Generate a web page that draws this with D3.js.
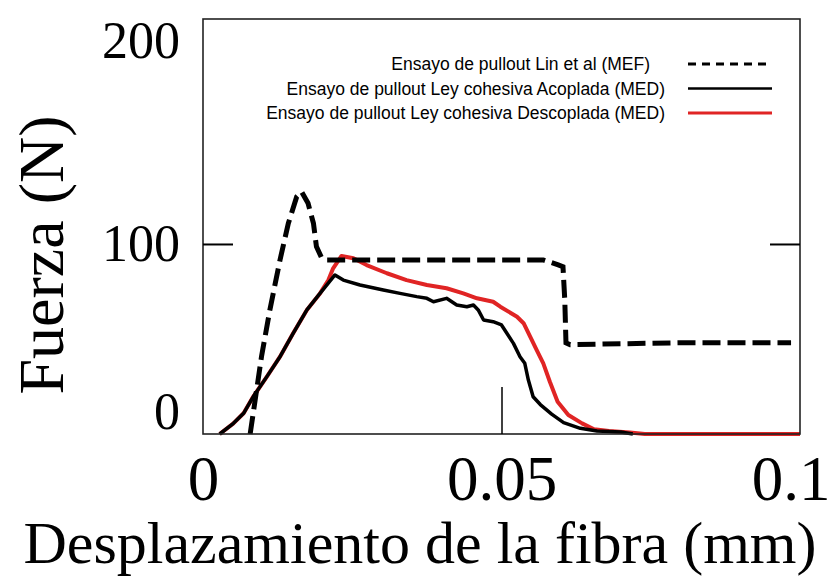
<!DOCTYPE html>
<html>
<head>
<meta charset="utf-8">
<script src="https://cdn.jsdelivr.net/npm/d3@7"></script>
<style>
  html, body { margin: 0; padding: 0; background: #fff; }
  svg { display: block; }
</style>
</head>
<body>
<svg id="chart" width="832" height="579"></svg>
<script>
// ---- Data ----
const xTicks = [0, 0.05, 0.1];
const yTicks = [0, 100, 200];
const xTickLabels = ["0", "0.05", "0.1"];
const yTickLabels = ["0", "100", "200"];

const seriesNames = [
  "Ensayo de pullout Lin et al (MEF)",
  "Ensayo de pullout Ley cohesiva Acoplada (MED)",
  "Ensayo de pullout Ley cohesiva Descoplada (MED)"
];

// Lin et al (MEF) : [desplazamiento (mm), fuerza (N)]
const linMEF = [
  [0.0079, 0], [0.0098, 40.7], [0.0112, 65.3], [0.0129, 91.6], [0.0143, 110.9],
  [0.0157, 124.9], [0.0165, 127.5], [0.0176, 121.4], [0.0185, 110.9], [0.0190, 98.6],
  [0.0199, 92.5], [0.0207, 91.6], [0.0300, 91.6], [0.0400, 91.6], [0.0500, 91.6],
  [0.0570, 91.6], [0.0595, 89.0], [0.0603, 88.0], [0.0606, 70.5], [0.0608, 48.0],
  [0.0615, 47.0], [0.0700, 47.5], [0.0800, 48.0], [0.0900, 48.0], [0.0985, 48.0]
];

// Ley cohesiva Acoplada (MED)
const acoplada = [
  [0.0028, 0], [0.0051, 5.6], [0.0068, 10.9], [0.0084, 19.6], [0.0107, 30.2],
  [0.0129, 40.7], [0.0151, 53.0], [0.0174, 65.3], [0.0196, 74.0], [0.0221, 83.7],
  [0.0235, 81.0], [0.0263, 78.4], [0.0302, 75.8], [0.0330, 74.0], [0.0358, 72.3],
  [0.0375, 71.4], [0.0386, 69.6], [0.0408, 71.4], [0.0425, 67.9], [0.0442, 67.0],
  [0.0453, 67.9], [0.0461, 65.3], [0.0470, 60.0], [0.0486, 59.1], [0.0500, 57.4],
  [0.0509, 53.0], [0.0520, 47.7], [0.0531, 40.7], [0.0539, 37.2], [0.0545, 28.4],
  [0.0553, 19.6], [0.0565, 15.5], [0.0584, 10.5], [0.0604, 6.0], [0.0632, 3.0],
  [0.0660, 1.6], [0.0700, 1.0], [0.0720, 0]
];

// Ley cohesiva Descoplada (MED)
const descoplada = [
  [0.0028, 0], [0.0051, 5.6], [0.0068, 10.9], [0.0084, 19.6], [0.0107, 30.2],
  [0.0129, 40.7], [0.0151, 53.0], [0.0174, 65.3], [0.0196, 74.0], [0.0210, 81.0],
  [0.0218, 87.2], [0.0232, 93.7], [0.0252, 92.5], [0.0274, 88.9], [0.0308, 84.6],
  [0.0341, 81.0], [0.0375, 78.4], [0.0408, 76.7], [0.0436, 74.0], [0.0459, 71.4],
  [0.0486, 69.6], [0.0498, 67.0], [0.0526, 61.7], [0.0537, 58.3], [0.0548, 51.2],
  [0.0559, 44.2], [0.0570, 37.2], [0.0581, 27.5], [0.0594, 17.0], [0.0612, 10.0],
  [0.0635, 5.6], [0.0655, 2.5], [0.0680, 1.6], [0.0715, 0.8], [0.0740, 0],
  [0.1000, 0]
];

// ---- Layout ----
const svg = d3.select("#chart");
const L = 203, R = 800, T = 19, B = 434;
const x = d3.scaleLinear().domain([0, 0.1]).range([L, R]);
const y = d3.scaleLinear().domain([0, 218.4]).range([B, T]);

const serif = "'Liberation Serif', 'Times New Roman', serif";
const sans = "'Liberation Sans', Arial, sans-serif";

const line = d3.line().x(d => x(d[0])).y(d => y(d[1]));

// Curves
svg.append("path").datum(descoplada)
  .attr("d", line).attr("fill", "none")
  .attr("stroke", "#e02424").attr("stroke-width", 4).attr("stroke-linejoin", "round");

svg.append("path").datum(acoplada)
  .attr("d", line).attr("fill", "none")
  .attr("stroke", "#000").attr("stroke-width", 3.5).attr("stroke-linejoin", "round");

svg.append("path").datum(linMEF)
  .attr("d", line).attr("fill", "none")
  .attr("stroke", "#000").attr("stroke-width", 5)
  .attr("stroke-dasharray", "18,7");

// Frame
svg.append("rect")
  .attr("x", L).attr("y", T).attr("width", R - L).attr("height", B - T)
  .attr("fill", "none").attr("stroke", "#222").attr("stroke-width", 1.6);

// Left axis
const gl = svg.append("g").attr("transform", `translate(${L},0)`)
  .call(d3.axisLeft(y).tickValues(yTicks)
    .tickFormat((d, i) => yTickLabels[i])
    .tickSizeInner(-30).tickSizeOuter(0).tickPadding(23));
gl.select(".domain").remove();
gl.selectAll(".tick line").attr("stroke", "#000").attr("stroke-width", 2)
  .attr("display", d => d === 100 ? null : "none");
gl.selectAll(".tick text")
  .attr("font-family", serif).attr("font-size", 52).attr("fill", "#000")
  .attr("transform", d => d === 200 ? "translate(0,-13)" : d === 0 ? "translate(0,-22)" : null);

// Right axis
const gr = svg.append("g").attr("transform", `translate(${R},0)`)
  .call(d3.axisRight(y).tickValues(yTicks).tickFormat("")
    .tickSizeInner(-30).tickSizeOuter(0));
gr.select(".domain").remove();
gr.selectAll(".tick line").attr("stroke", "#000").attr("stroke-width", 2)
  .attr("display", d => d === 100 ? null : "none");

// Bottom axis
const gb = svg.append("g").attr("transform", `translate(0,${B})`)
  .call(d3.axisBottom(x).tickValues(xTicks)
    .tickFormat((d, i) => xTickLabels[i])
    .tickSizeInner(-47).tickSizeOuter(0));
gb.select(".domain").remove();
gb.selectAll(".tick line").attr("stroke", "#000").attr("stroke-width", 1.5)
  .attr("display", d => d === 0.05 ? null : "none");
gb.selectAll(".tick text")
  .attr("font-family", serif).attr("font-size", 63).attr("fill", "#000")
  .attr("y", 66).attr("dy", 0)
  .attr("text-anchor", d => d === 0.1 ? "end" : "middle")
  .attr("x", d => d === 0.1 ? 830 - R : 0);

// Axis titles
svg.append("text")
  .attr("x", 420).attr("y", 563)
  .attr("text-anchor", "middle")
  .attr("font-family", serif).attr("font-size", 60).attr("fill", "#000")
  .text("Desplazamiento de la fibra (mm)");

svg.append("text")
  .attr("transform", "translate(63,255) rotate(-90)")
  .attr("text-anchor", "middle")
  .attr("font-family", serif).attr("font-size", 64).attr("fill", "#000")
  .text("Fuerza (N)");

// Legend
const legendStyles = [
  { stroke: "#000", width: 3, dash: "8,6" },
  { stroke: "#000", width: 2.5, dash: null },
  { stroke: "#e02424", width: 3, dash: null }
];
const lg = svg.append("g");
seriesNames.forEach((name, i) => {
  const yy = 64 + i * 24.5;
  lg.append("text")
    .attr("x", i === 0 ? 650 : 665).attr("y", yy + 6)
    .attr("text-anchor", "end")
    .attr("font-family", sans).attr("font-size", 17.5).attr("fill", "#000")
    .text(name);
  lg.append("line")
    .attr("x1", 688).attr("x2", 772).attr("y1", yy).attr("y2", yy)
    .attr("stroke", legendStyles[i].stroke)
    .attr("stroke-width", legendStyles[i].width)
    .attr("stroke-dasharray", legendStyles[i].dash);
});
</script>
</body>
</html>
